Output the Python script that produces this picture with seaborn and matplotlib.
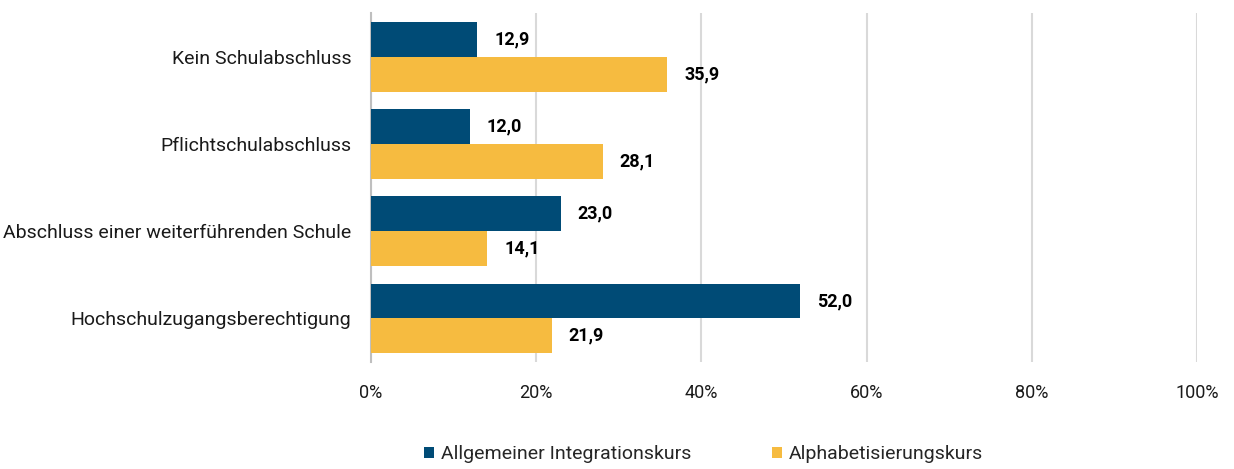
import pandas as pd
import matplotlib
matplotlib.use('AGG')
import matplotlib.pyplot as plt
import seaborn as sns
from matplotlib.ticker import FuncFormatter

sns.set_theme(style="white")
plt.rcParams['font.family'] = ['Roboto', 'DejaVu Sans']

categories = ["Kein Schulabschluss", "Pflichtschulabschluss",
              "Abschluss einer weiterführenden Schule", "Hochschulzugangsberechtigung"]
series = ["Allgemeiner Integrationskurs", "Alphabetisierungskurs"]
allgemein = [12.9, 12.0, 23.0, 52.0]
alpha = [35.9, 28.1, 14.1, 21.9]
colors = ["#004B76", "#F6BB40"]

df = pd.DataFrame({
    "cat": categories * 2,
    "kurs": [series[0]] * 4 + [series[1]] * 4,
    "wert": allgemein + alpha,
})

fig = plt.figure(figsize=(12.34, 4.69), dpi=100)
ax = fig.add_axes([0.3006, 0.228, 0.6694, 0.744])

sns.barplot(data=df, y="cat", x="wert", hue="kurs", orient="h",
            palette=colors, width=0.8, saturation=1, linewidth=0, ax=ax, zorder=3)

# Werte rechts neben den Balken
for cont in ax.containers:
    ax.bar_label(cont, labels=[f"{v:.1f}".replace(".", ",") for v in cont.datavalues],
                 padding=12, fontsize=13, fontweight="bold", color="black")

ax.set_xlim(0, 100)
ax.set_xticks([0, 20, 40, 60, 80, 100])
ax.xaxis.set_major_formatter(FuncFormatter(lambda v, p: f"{v:.0f}%"))
ax.grid(axis="x", color="#D9D9D9", linewidth=1.5, zorder=0)
ax.set_axisbelow(True)
for s in ["top", "right", "bottom"]:
    ax.spines[s].set_visible(False)
ax.spines["left"].set_color("#BFBFBF")
ax.spines["left"].set_linewidth(1.5)
ax.set_xlabel("")
ax.set_ylabel("")
ax.tick_params(axis="x", labelsize=13, colors="#1a1a1a", length=0, pad=16)
ax.tick_params(axis="y", labelsize=14, colors="#1a1a1a", length=0, pad=14)

handles, labels = ax.get_legend_handles_labels()
ax.legend_.remove()
fig.legend(handles, labels, loc="lower center", bbox_to_anchor=(0.570, -0.025), ncol=2,
           frameon=False, fontsize=14, handlelength=0.5, handleheight=0.5,
           handletextpad=0.35, columnspacing=4.15)

fig.savefig("out.png", dpi=100)
